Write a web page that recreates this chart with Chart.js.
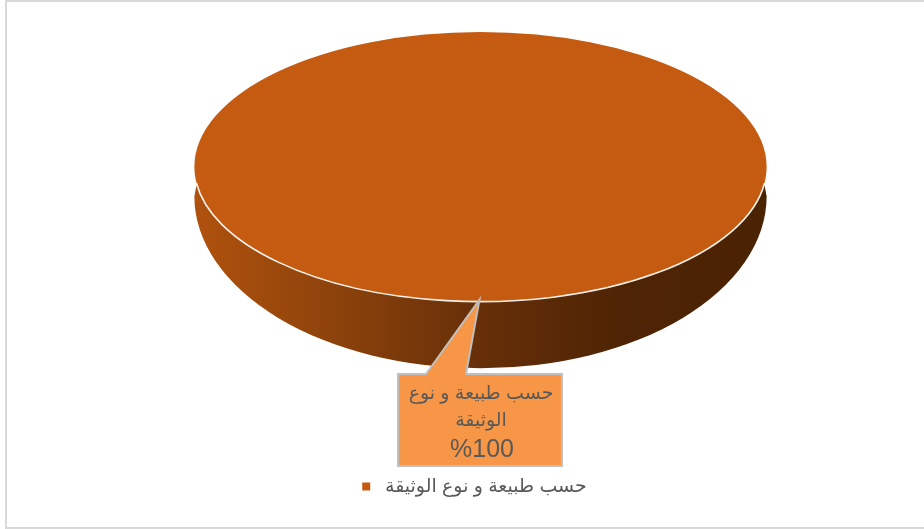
<!DOCTYPE html>
<html lang="ar">
<head>
<meta charset="utf-8">
<title>حسب طبيعة و نوع الوثيقة</title>
<script src="https://cdn.jsdelivr.net/npm/chart.js@4/dist/chart.umd.min.js"></script>
<style>
  html, body { margin: 0; padding: 0; background: #fff; overflow: hidden; }
  canvas { display: block; }
</style>
</head>
<body>
<canvas id="chart" width="924" height="529"></canvas>
<script>
const categories = ["حسب طبيعة و نوع الوثيقة"];
const shares = [100];
const sliceColors = ["#c55a11"];

const fontFamily = "'Liberation Sans', 'DejaVu Sans', sans-serif";
const textColor = "#595959";
const flatten = 285.5 / 134.5; // x stretch that turns the pie into a tilted disc

// side wall of the disc, under the slice
const wall = {
  id: "wall",
  beforeDatasetsDraw(chart) {
    const arc = chart.getDatasetMeta(0).data[0];
    const ctx = chart.ctx;
    const rx = arc.outerRadius * flatten;
    const g = ctx.createLinearGradient(arc.x - rx, 0, arc.x + rx, 0);
    g.addColorStop(0, "#b0520e");
    g.addColorStop(0.25, "#8c420b");
    g.addColorStop(0.5, "#662f08");
    g.addColorStop(0.75, "#4e2404");
    g.addColorStop(1, "#4a2303");
    ctx.save();
    ctx.fillStyle = g;
    ctx.beginPath();
    ctx.ellipse(arc.x, arc.y + 29.5, rx, 172, 0, 0, Math.PI);
    ctx.lineTo(arc.x - rx + 2, arc.y + 19);
    ctx.lineTo(arc.x + rx - 2, arc.y + 19);
    ctx.closePath();
    ctx.fill();
    ctx.restore();
  },
  // stretch the slice into the top of the disc
  beforeDatasetDraw(chart) {
    const arc = chart.getDatasetMeta(0).data[0];
    const ctx = chart.ctx;
    ctx.save();
    ctx.translate(arc.x, arc.y);
    ctx.scale(flatten, 1);
    ctx.translate(-arc.x, -arc.y);
  },
  afterDatasetDraw(chart) {
    chart.ctx.restore();
  }
};

// white rim and the data label in a speech bubble
const callout = {
  id: "callout",
  afterLayout(chart) {
    chart.legend.left -= 6;
    chart.legend.right -= 6;
  },
  afterDatasetsDraw(chart) {
    const arc = chart.getDatasetMeta(0).data[0];
    const ctx = chart.ctx;
    ctx.save();
    ctx.beginPath();
    ctx.ellipse(arc.x, arc.y, arc.outerRadius * flatten, arc.outerRadius, 0, 0.12, Math.PI - 0.12);
    ctx.lineWidth = 1.6;
    ctx.strokeStyle = "#f8f1ec";
    ctx.stroke();

    const tipX = arc.x - 1;
    const tipY = arc.y + arc.outerRadius - 2;
    const l = 398, r = 562, t = 374, b = 466;
    ctx.beginPath();
    ctx.moveTo(l, t);
    ctx.lineTo(426, t);
    ctx.lineTo(tipX, tipY);
    ctx.lineTo(466, t);
    ctx.lineTo(r, t);
    ctx.lineTo(r, b);
    ctx.lineTo(l, b);
    ctx.closePath();
    ctx.fillStyle = "#f79646";
    ctx.fill();
    ctx.lineWidth = 2;
    ctx.strokeStyle = "#bfbfbf";
    ctx.stroke();

    ctx.fillStyle = textColor;
    ctx.textAlign = "center";
    ctx.textBaseline = "middle";
    ctx.font = "19px " + fontFamily;
    ctx.direction = "rtl";
    const words = categories[0].split(" ");
    ctx.fillText(words.slice(0, 4).join(" "), 481, 394);
    ctx.fillText(words.slice(4).join(" "), 481, 421);
    ctx.direction = "ltr";
    ctx.font = "25px " + fontFamily;
    ctx.fillText("%" + shares[0], 482, 450);
    ctx.restore();
  }
};

// thin frame along the top, left and bottom
const frame = {
  id: "frame",
  beforeDraw(chart) {
    const ctx = chart.ctx;
    ctx.save();
    ctx.fillStyle = "#d9d9d9";
    ctx.fillRect(5, 0, 919, 2);
    ctx.fillRect(5, 0, 2, 529);
    ctx.fillRect(5, 527, 919, 2);
    ctx.restore();
  }
};

new Chart(document.getElementById("chart"), {
  type: "pie",
  data: {
    labels: categories,
    datasets: [{
      data: shares,
      backgroundColor: sliceColors,
      borderWidth: 0,
      clip: false
    }]
  },
  plugins: [wall, callout, frame],
  options: {
    responsive: false,
    animation: false,
    layout: { padding: { top: 32, left: 37, right: 0, bottom: 23 } },
    plugins: {
      tooltip: { enabled: false },
      legend: {
        position: "bottom",
        textDirection: "rtl",
        // blank title keeps the legend low and the disc up top
        title: { display: true, text: " ", padding: { top: 151, bottom: 0 }, font: { size: 12 } },
        labels: {
          boxWidth: 8,
          boxHeight: 8,
          color: textColor,
          padding: 10,
          font: { family: fontFamily, size: 19 },
          generateLabels(chart) {
            // no-break space widens the gap to the colour box
            const items = Chart.overrides.pie.plugins.legend.labels.generateLabels(chart);
            items.forEach(it => { it.text += "\u00a0"; it.lineWidth = 0; });
            return items;
          }
        }
      }
    }
  }
});
</script>
</body>
</html>
